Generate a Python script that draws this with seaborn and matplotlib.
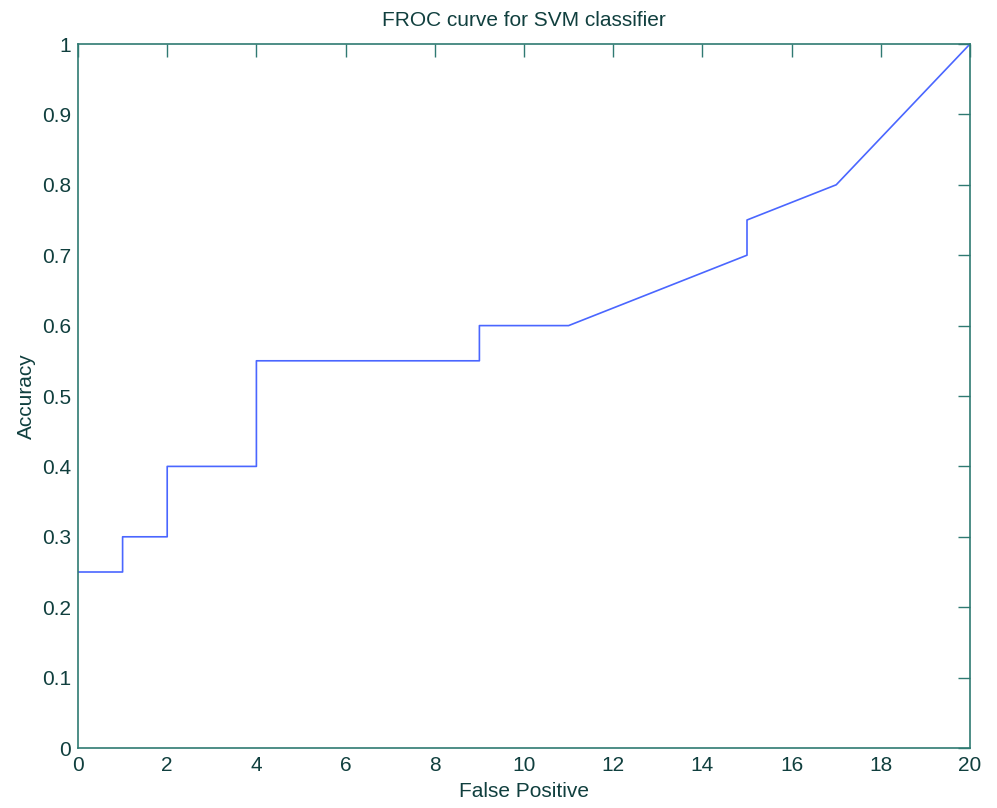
import matplotlib
matplotlib.use("Agg")
import matplotlib.pyplot as plt
import seaborn as sns
import pandas as pd

false_positive = [0, 1, 1, 2, 2, 4, 4, 9, 9, 11, 15, 15, 17, 20]
accuracy = [0.25, 0.25, 0.30, 0.30, 0.40, 0.40, 0.55, 0.55, 0.60, 0.60, 0.70, 0.75, 0.80, 1.00]
x_ticks = [0, 2, 4, 6, 8, 10, 12, 14, 16, 18, 20]
y_ticks = [0, 0.1, 0.2, 0.3, 0.4, 0.5, 0.6, 0.7, 0.8, 0.9, 1]
y_tick_labels = ["0", "0.1", "0.2", "0.3", "0.4", "0.5", "0.6", "0.7", "0.8", "0.9", "1"]

sns.set_style("white")
plt.rcParams['font.family'] = ['Liberation Sans', 'DejaVu Sans']

axis_col = '#2f7a72'
text_col = '#103f3e'

df = pd.DataFrame({"fp": false_positive, "acc": accuracy})

fig = plt.figure(figsize=(9.97, 8.08), dpi=100)
ax = fig.add_axes([78/997, 1 - 748/808, (970-78)/997, (748-44)/808])
sns.lineplot(data=df, x="fp", y="acc", ax=ax, color='#4a66ff', linewidth=1.2, sort=False, estimator=None)

ax.set_xlim(0, 20)
ax.set_ylim(0, 1)
ax.set_xticks(x_ticks)
ax.set_xticklabels([str(t) for t in x_ticks])
ax.set_yticks(y_ticks)
ax.set_yticklabels(y_tick_labels)
ax.tick_params(direction='in', length=9, width=1, colors=axis_col, labelcolor=text_col,
               labelsize=15, top=True, right=True)
ax.tick_params(axis='x', pad=6)
ax.tick_params(axis='y', pad=5)
for s in ax.spines.values():
    s.set_color(axis_col)
    s.set_linewidth(1.2)
    s.set_visible(True)
ax.set_xlabel("False Positive", fontsize=15, color=text_col, labelpad=5)
ax.set_ylabel("Accuracy", fontsize=15, color=text_col, labelpad=4)
ax.set_title("FROC curve for SVM classifier", fontsize=15, color=text_col, pad=13)

fig.savefig("out.png", dpi=100)
